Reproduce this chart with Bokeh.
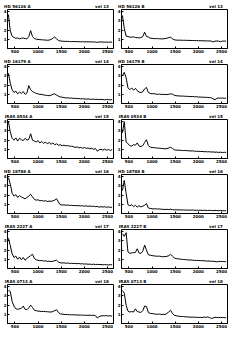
from bokeh.plotting import figure
from bokeh.layouts import gridplot
from bokeh.models import FixedTicker, Range1d, LinearAxis
from bokeh.embed import file_html
from bokeh.resources import INLINE

# common abscissa grid
X = list(range(360, 2601, 40))

TITLES_LEFT = ["HD 56126 A", "HD 56126 B", "HD 16179 A", "HD 16179 B",
               "IRAS 0534 A", "IRAS 0534 B", "HD 18788 A", "HD 18788 B",
               "IRAS 2227 A", "IRAS 2227 B", "IRAS 0713 A", "IRAS 0713 B"]
TITLES_RIGHT = ["vel 13", "vel 13", "vel 14", "vel 14", "vel 15", "vel 15",
                "vel 16", "vel 16", "vel 17", "vel 17", "vel 18", "vel 18"]

X_TICKS = [500, 1000, 1500, 2000, 2500]
Y_TICKS = [1, 2, 3, 4]

S1 = [3.7, 1.9, 1.35, 1.2, 1.1, 1.15, 1.05, 1.12, 1.15, 1.08,
      1.05, 1.3, 1.95, 1.3, 1.08, 1.02, 0.98, 0.97, 0.95, 0.93,
      0.92, 0.9, 0.92, 0.98, 1.12, 1.25, 1.05, 0.88, 0.82, 0.8,
      0.78, 0.77, 0.78, 0.76, 0.75, 0.76, 0.75, 0.74, 0.75, 0.73,
      0.74, 0.73, 0.72, 0.73, 0.72, 0.71, 0.72, 0.7, 0.66, 0.72,
      0.7, 0.71, 0.69, 0.7, 0.68, 0.7, 0.69]
S2 = [3.6, 2.2, 1.35, 1.3, 1.25, 1.22, 1.28, 1.2, 1.18, 1.15,
      1.2, 1.3, 1.78, 1.3, 1.25, 1.12, 1.1, 1.08, 1.07, 1.08,
      1.06, 1.05, 1.05, 1.08, 1.12, 1.18, 1.25, 1.05, 0.95, 0.92,
      0.9, 0.91, 0.9, 0.89, 0.9, 0.88, 0.89, 0.87, 0.88, 0.86,
      0.87, 0.85, 0.84, 0.85, 0.83, 0.84, 0.82, 0.83, 0.8, 0.72,
      0.8, 0.82, 0.8, 0.74, 0.81, 0.8, 0.82]
S3 = [3.3, 2.2, 1.5, 1.2, 1.35, 1.05, 1.25, 1.1, 1.3, 1.0,
      1.15, 1.95, 1.5, 1.3, 1.2, 1.1, 1.05, 0.98, 1.0, 0.93,
      0.9, 0.88, 0.85, 0.9, 1.0, 1.05, 0.92, 0.8, 0.72, 0.68,
      0.65, 0.6, 0.62, 0.58, 0.6, 0.55, 0.57, 0.53, 0.55, 0.5,
      0.52, 0.5, 0.48, 0.5, 0.47, 0.45, 0.48, 0.44, 0.46, 0.42,
      0.45, 0.43, 0.4, 0.44, 0.42, 0.4, 0.43]
S4 = [3.0, 3.4, 2.8, 1.7, 1.5, 1.7, 1.45, 1.65, 1.4, 1.25,
      1.2, 1.28, 1.6, 1.75, 1.2, 1.1, 1.05, 1.08, 1.02, 1.0,
      1.02, 0.98, 1.0, 0.97, 0.98, 1.0, 1.05, 1.02, 0.9, 0.85,
      0.83, 0.82, 0.8, 0.81, 0.78, 0.79, 0.76, 0.75, 0.76, 0.73,
      0.74, 0.7, 0.71, 0.68, 0.69, 0.66, 0.67, 0.64, 0.62, 0.5,
      0.42, 0.55, 0.6, 0.58, 0.6, 0.57, 0.59]
S5 = [4.0, 2.9, 2.2, 2.0, 2.25, 1.9, 2.2, 2.05, 1.95, 2.2,
      2.0, 2.1, 2.7, 2.0, 1.9, 1.8, 1.95, 1.7, 1.85, 1.65,
      1.8, 1.6, 1.75, 1.55, 1.7, 1.5, 1.6, 1.45, 1.5, 1.4,
      1.45, 1.38, 1.4, 1.35, 1.33, 1.3, 1.2, 1.28, 1.15, 1.22,
      1.12, 1.2, 1.1, 1.15, 1.05, 1.12, 1.0, 1.08, 0.8, 0.95,
      1.0, 0.92, 1.02, 0.9, 0.98, 0.88, 0.96]
S6 = [2.8, 4.0, 1.8, 1.6, 1.4, 1.35, 1.5, 1.45, 1.7, 1.35,
      1.3, 1.4, 1.75, 2.05, 1.4, 1.25, 1.2, 1.18, 1.15, 1.14,
      1.12, 1.1, 1.08, 1.05, 1.08, 1.15, 1.22, 1.1, 0.95, 0.92,
      0.9, 0.9, 0.88, 0.86, 0.87, 0.85, 0.84, 0.82, 0.83, 0.8,
      0.78, 0.79, 0.76, 0.77, 0.74, 0.75, 0.72, 0.74, 0.7, 0.72,
      0.68, 0.7, 0.66, 0.69, 0.65, 0.68, 0.66]
S7 = [3.9, 3.2, 2.2, 1.9, 2.05, 1.75, 1.95, 1.8, 1.7, 1.6,
      1.75, 1.9, 2.1, 1.8, 1.55, 1.45, 1.5, 1.38, 1.42, 1.35,
      1.4, 1.3, 1.36, 1.32, 1.38, 1.45, 1.6, 1.25, 0.95, 0.92,
      0.95, 0.9, 0.92, 0.88, 0.9, 0.85, 0.88, 0.84, 0.86, 0.82,
      0.85, 0.8, 0.83, 0.78, 0.82, 0.77, 0.8, 0.74, 0.78, 0.68,
      0.75, 0.7, 0.74, 0.68, 0.72, 0.66, 0.7]
S8 = [2.5, 3.6, 2.2, 0.95, 0.85, 0.95, 0.75, 0.9, 0.7, 0.85,
      0.72, 0.8, 0.9, 1.08, 0.6, 0.55, 0.52, 0.5, 0.52, 0.48,
      0.5, 0.46, 0.45, 0.44, 0.45, 0.43, 0.47, 0.42, 0.4, 0.41,
      0.39, 0.4, 0.38, 0.39, 0.37, 0.38, 0.36, 0.37, 0.38, 0.35,
      0.36, 0.34, 0.36, 0.33, 0.35, 0.34, 0.32, 0.35, 0.33, 0.31,
      0.34, 0.32, 0.3, 0.33, 0.31, 0.3, 0.32]
S9 = [3.3, 2.5, 1.6, 1.2, 1.35, 1.0, 1.25, 0.95, 1.2, 0.9,
      1.1, 1.25, 1.4, 1.55, 1.1, 0.95, 0.9, 0.85, 0.88, 0.8,
      0.84, 0.78, 0.8, 0.76, 0.78, 0.85, 0.9, 0.7, 0.62, 0.6,
      0.62, 0.57, 0.6, 0.55, 0.57, 0.54, 0.56, 0.52, 0.55, 0.5,
      0.52, 0.48, 0.5, 0.46, 0.48, 0.44, 0.47, 0.43, 0.45, 0.42,
      0.44, 0.4, 0.43, 0.41, 0.39, 0.42, 0.4]
S10 = [3.8, 3.5, 3.9, 1.8, 1.65, 1.7, 1.72, 1.75, 2.15, 1.68,
       1.65, 1.9, 2.55, 2.0, 1.5, 1.45, 1.4, 1.38, 1.35, 1.33,
       1.35, 1.3, 1.28, 1.3, 1.32, 1.4, 1.55, 1.35, 1.15, 1.08,
       1.05, 1.03, 1.0, 0.98, 0.97, 0.95, 0.92, 0.93, 0.9, 0.88,
       0.89, 0.86, 0.87, 0.84, 0.85, 0.82, 0.8, 0.82, 0.78, 0.8,
       0.76, 0.72, 0.78, 0.75, 0.77, 0.74, 0.76]
S11 = [3.6, 3.5, 2.4, 1.9, 1.6, 1.55, 1.6, 1.65, 1.9, 1.55,
       1.5, 1.7, 2.0, 1.75, 1.45, 1.4, 1.35, 1.34, 1.3, 1.32,
       1.3, 1.28, 1.26, 1.25, 1.3, 1.4, 1.5, 1.2, 1.05, 1.02,
       1.0, 0.98, 0.97, 0.96, 0.95, 0.95, 0.94, 0.93, 0.92, 0.92,
       0.91, 0.9, 0.9, 0.89, 0.9, 0.88, 0.9, 0.85, 0.6, 0.75,
       0.82, 0.85, 0.83, 0.86, 0.82, 0.84, 0.8]
S12 = [3.6, 3.3, 2.0, 1.35, 1.25, 1.3, 1.25, 1.6, 1.3, 1.25,
       1.2, 1.4, 1.9, 1.85, 1.2, 1.1, 1.08, 1.05, 1.02, 1.0,
       1.03, 0.98, 1.0, 0.97, 1.1, 1.25, 1.45, 1.1, 0.9, 0.85,
       0.8, 0.78, 0.75, 0.76, 0.72, 0.73, 0.7, 0.68, 0.7, 0.67,
       0.68, 0.66, 0.67, 0.65, 0.7, 0.66, 0.72, 0.65, 0.55, 0.6,
       0.68, 0.65, 0.67, 0.64, 0.66, 0.63, 0.65]

SERIES = [S1, S2, S3, S4, S5, S6, S7, S8, S9, S10, S11, S12]

FONT = "DejaVu Sans"
W = 114
H = 55
X0, X1 = 340, 2630
FRAME_W = 108            # approximate frame width in pixels
CHAR_W = 2.6             # approximate width of one 4px bold character
UNITS_PER_PX = (X1 - X0) / FRAME_W


def panel(ys, left_text, right_text):
    n = min(len(X), len(ys))
    p = figure(width=W, height=H, output_backend="svg", toolbar_location=None,
               x_range=Range1d(X0, X1), y_range=Range1d(0, 4.25),
               min_border_left=5, min_border_right=1, min_border_top=1,
               min_border_bottom=6, title=None)
    p.line(X[:n], ys[:n], line_color="black", line_width=1)
    p.grid.visible = False
    p.outline_line_color = "black"
    p.outline_line_width = 1
    for ax in (p.xaxis[0], p.yaxis[0]):
        ax.axis_line_color = "black"
        ax.major_tick_in = 2
        ax.major_tick_out = 0
        ax.minor_tick_line_color = None
        ax.major_label_text_font = FONT
        ax.major_label_text_font_size = "4px"
        ax.major_label_text_font_style = "bold"
        ax.major_label_text_color = "black"
        ax.major_label_standoff = 1
    p.xaxis.ticker = FixedTicker(ticks=X_TICKS)
    p.yaxis.ticker = FixedTicker(ticks=Y_TICKS)

    # panel heading: two labels on an unlined axis above the frame
    wl = len(left_text) * CHAR_W
    wr = len(right_text) * CHAR_W
    pos_l = round(X0 + (-3 + wl / 2) * UNITS_PER_PX)
    pos_r = round(X1 - (4 + wr / 2) * UNITS_PER_PX)
    top = LinearAxis(ticker=FixedTicker(ticks=[pos_l, pos_r]),
                     major_label_overrides={pos_l: left_text, pos_r: right_text},
                     axis_line_color=None, major_tick_line_color=None,
                     minor_tick_line_color=None, major_tick_in=0, major_tick_out=0,
                     major_label_standoff=1, major_label_text_font=FONT,
                     major_label_text_font_size="4px",
                     major_label_text_font_style="bold",
                     major_label_text_color="black")
    p.add_layout(top, "above")
    return p


figs = [panel(SERIES[k], TITLES_LEFT[k], TITLES_RIGHT[k]) for k in range(12)]
grid = gridplot(figs, ncols=2, toolbar_location=None)
open("out.html", "w").write(file_html(grid, INLINE))
